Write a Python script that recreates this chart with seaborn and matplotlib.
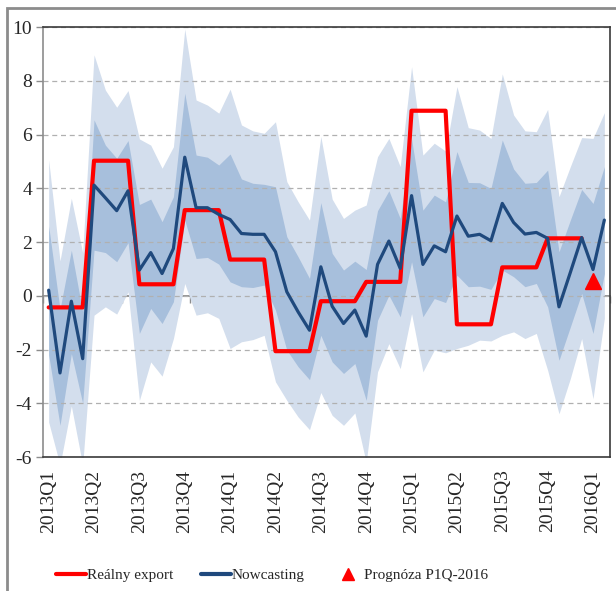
import numpy as np
import pandas as pd
import matplotlib
matplotlib.use("Agg")
import matplotlib.pyplot as plt
from matplotlib.lines import Line2D
from matplotlib.patches import Rectangle
import seaborn as sns

# --- data, one point per period, 4 per quarter ---
quarter_labels = ["2013Q1", "2013Q2", "2013Q3", "2013Q4", "2014Q1", "2014Q2", "2014Q3",
                  "2014Q4", "2015Q1", "2015Q2", "2015Q3", "2015Q4", "2016Q1"]

nowcast = [0.21, -2.87, -0.2, -2.34, 4.12, 3.65, 3.17, 3.91, 0.96, 1.61,
           0.83, 1.76, 5.16, 3.28, 3.28, 3.03, 2.84, 2.32, 2.29, 2.29,
           1.64, 0.15, -0.6, -1.28, 1.08, -0.39, -1.03, -0.53, -1.5, 1.17,
           2.04, 1.02, 3.73, 1.17, 1.86, 1.64, 2.97, 2.22, 2.29, 2.05,
           3.44, 2.73, 2.3, 2.36, 2.14, -0.41, 0.87, 2.17, 0.98, 2.82]

real_export = [-0.43, -0.43, -0.43, -0.43, 5.03, 5.03, 5.03, 5.03, 0.43, 0.43,
               0.43, 0.43, 3.19, 3.19, 3.19, 3.19, 1.35, 1.35, 1.35, 1.35,
               -2.06, -2.06, -2.06, -2.06, -0.2, -0.2, -0.2, -0.2, 0.52, 0.52,
               0.52, 0.52, 6.89, 6.89, 6.89, 6.89, -1.06, -1.06, -1.06, -1.06,
               1.06, 1.06, 1.06, 1.06, 2.14, 2.14, 2.14, 2.14, np.nan, np.nan]

outer_hi = [5.06, 1.3, 3.63, 1.6, 8.97, 7.66, 7.02, 7.64, 5.84, 5.61,
            4.75, 5.55, 9.93, 7.29, 7.1, 6.8, 7.69, 6.36, 6.14, 6.05,
            6.48, 4.25, 3.5, 2.82, 5.93, 3.6, 2.88, 3.19, 3.38, 5.18,
            5.86, 4.81, 8.53, 5.24, 5.68, 5.39, 7.79, 6.26, 6.17, 5.86,
            8.26, 6.73, 6.14, 6.11, 6.94, 3.69, 4.81, 5.89, 5.86, 6.82]

inner_hi = [2.6, -0.5, 1.7, -0.6, 6.55, 5.61, 5.12, 5.78, 3.4, 3.6,
            2.76, 3.69, 7.54, 5.24, 5.16, 4.87, 5.28, 4.35, 4.19, 4.15,
            4.06, 2.2, 1.45, 0.65, 3.47, 1.58, 0.96, 1.29, 0.98, 3.17,
            3.91, 2.88, 5.84, 3.19, 3.75, 3.5, 5.37, 4.22, 4.21, 4.0,
            5.8, 4.72, 4.19, 4.22, 4.68, 1.64, 2.82, 3.96, 3.44, 4.81]

inner_lo = [-2.2, -4.82, -2.15, -4.0, 1.7, 1.61, 1.27, 1.98, -1.4, -0.47,
            -1.03, -0.22, 2.82, 1.39, 1.43, 1.18, 0.52, 0.34, 0.31, 0.4,
            -0.53, -2.02, -2.64, -3.12, -1.47, -2.46, -2.89, -2.52, -3.89, -0.91,
            0.02, -0.78, 1.27, -0.78, -0.1, -0.25, 0.77, 0.34, 0.36, 0.24,
            0.96, 0.71, 0.34, 0.46, -0.41, -2.4, -1.16, 0.09, -1.4, 0.83]

outer_lo = [-4.7, -6.3, -4.1, -6.3, -0.72, -0.41, -0.68, 0.15, -3.89, -2.46,
            -2.99, -1.59, 0.46, -0.72, -0.63, -0.84, -1.96, -1.71, -1.63, -1.47,
            -3.2, -3.89, -4.51, -4.98, -3.6, -4.45, -4.82, -4.36, -6.2, -2.83,
            -1.78, -2.71, -0.66, -2.83, -2.02, -2.12, -1.96, -1.84, -1.65, -1.68,
            -1.47, -1.34, -1.59, -1.4, -2.77, -4.39, -3.08, -1.59, -3.83, -0.84]

forecast_idx = [48]
forecast_val = [0.55]

df = pd.DataFrame({
    "t": np.arange(len(nowcast)),
    "nowcast": nowcast,
    "real": real_export,
    "outer_hi": outer_hi, "outer_lo": outer_lo,
    "inner_hi": inner_hi, "inner_lo": inner_lo,
})

# --- style ---
sns.set_theme(style="white")
plt.rcParams["font.family"] = ["Liberation Serif", "DejaVu Serif"]
plt.rcParams["axes.unicode_minus"] = False

fig = plt.figure(figsize=(6.16, 5.91), dpi=100)
ax = fig.add_axes([0.0698, 0.2267, 0.9205, 0.7273])

ax.fill_between(df["t"], df["outer_lo"], df["outer_hi"], color="#d3deed", lw=0, zorder=1)
ax.fill_between(df["t"], df["inner_lo"], df["inner_hi"], color="#a7bfdc", lw=0, zorder=1.1)

sns.lineplot(data=df, x="t", y="real", color="#ff0000", lw=3.0, ax=ax, zorder=3)
sns.lineplot(data=df, x="t", y="nowcast", color="#1f497d", lw=2.3, ax=ax, zorder=4)
ax.plot(forecast_idx, forecast_val, "^", color="#ff0000", ms=12, zorder=5, clip_on=False)

ax.set_xlim(-0.5, len(nowcast) - 0.5)
ax.set_ylim(-6, 10)
ax.set_yticks(np.arange(-6, 11, 2))
ax.set_xticks(np.arange(0, len(nowcast), 4))
ax.set_xticklabels(quarter_labels, rotation=90, fontsize=14)
ax.tick_params(axis="x", length=0, pad=9)
ax.tick_params(axis="y", length=5, width=1, color="#8c8c8c", direction="out",
               labelsize=14, pad=3, left=True)
ax.set_xlabel("")
ax.set_ylabel("")

# dashed horizontal gridlines
ax.set_axisbelow("line")
ax.yaxis.grid(True, linestyle=(0, (4, 3)), color="#b0b0b0", lw=0.9)
ax.xaxis.grid(False)

for side in ["top", "right", "bottom"]:
    ax.spines[side].set_color("#3a3a3a")
    ax.spines[side].set_linewidth(1.2)
ax.spines["left"].set_color("#8c8c8c")
ax.spines["left"].set_linewidth(1.2)

# category axis crossing at zero, with small ticks between periods
zero_frac = (0 - (-6)) / 16
sec = ax.secondary_xaxis(zero_frac)
sec.set_xticks(np.arange(-0.5, len(nowcast), 1.0))
sec.set_xticklabels([])
sec.tick_params(axis="x", length=5, width=1, color="#8c8c8c", direction="out")
sec.spines["bottom"].set_color("#8c8c8c")
sec.spines["bottom"].set_linewidth(1.3)

# legend
handles = [
    Line2D([], [], color="#ff0000", lw=3.0),
    Line2D([], [], color="#1f497d", lw=3.0),
    Line2D([], [], color="#ff0000", marker="^", ls="none", ms=9),
]
labels = ["Reálny export", "Nowcasting", "Prognóza P1Q-2016"]
fig.legend(handles, labels, loc="center left", bbox_to_anchor=(0.068, 0.027), ncol=3,
           frameon=False, fontsize=11, handlelength=2.0, handletextpad=0.05,
           columnspacing=1.8)

# grey border around the chart area
fig.patches.append(Rectangle((7 / 616, -0.05), 1.05, 1.0 - 8 / 591 + 0.05,
                             transform=fig.transFigure, fill=False,
                             edgecolor="#8c8c8c", lw=2))

fig.savefig("out.png", dpi=100)
